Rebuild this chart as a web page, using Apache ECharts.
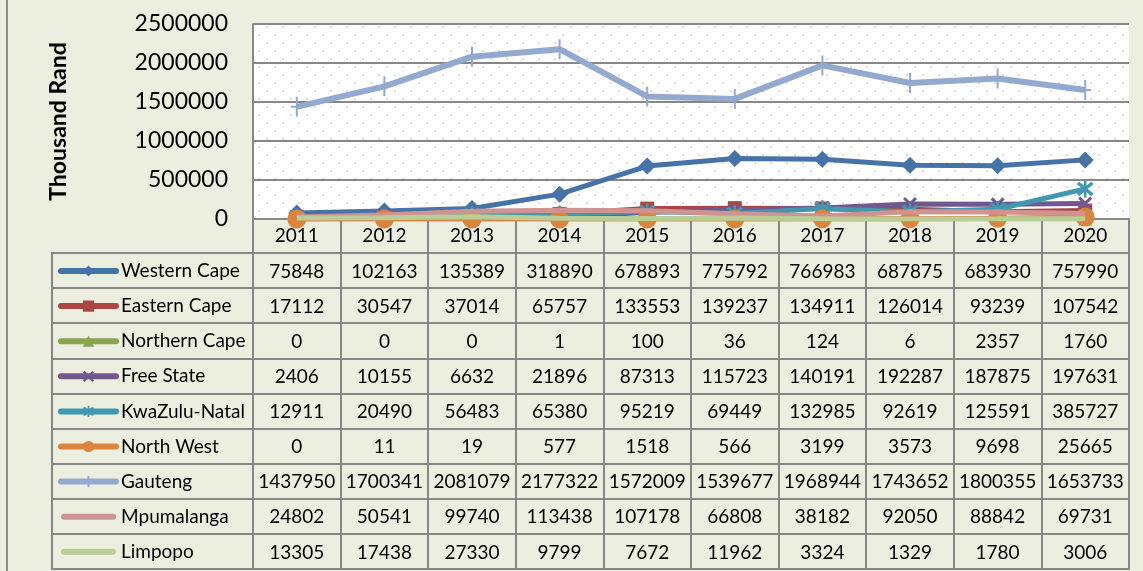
<!DOCTYPE html>
<html>
<head>
<meta charset="utf-8">
<script src="https://cdn.jsdelivr.net/npm/echarts@6/dist/echarts.min.js"></script>
<style>
  html, body { margin: 0; padding: 0; background: #ECEFDF; }
  #wrap { position: relative; width: 1143px; height: 571px; }
  #edge { position: absolute; left: 6px; top: 0; width: 2px; height: 571px; background: #8C8C8C; }
  #chart { position: absolute; left: 0; top: 0; width: 1143px; height: 571px; }
</style>
</head>
<body>
<div id="wrap">
  <div id="edge"></div>
  <div id="chart"></div>
</div>
<script>
// 数据
const years = ['2011', '2012', '2013', '2014', '2015', '2016', '2017', '2018', '2019', '2020']
const provinces = ['Western Cape', 'Eastern Cape', 'Northern Cape', 'Free State', 'KwaZulu-Natal',
  'North West', 'Gauteng', 'Mpumalanga', 'Limpopo']
const westernCape = [75848, 102163, 135389, 318890, 678893, 775792, 766983, 687875, 683930, 757990]
const easternCape = [17112, 30547, 37014, 65757, 133553, 139237, 134911, 126014, 93239, 107542]
const northernCape = [0, 0, 0, 1, 100, 36, 124, 6, 2357, 1760]
const freeState = [2406, 10155, 6632, 21896, 87313, 115723, 140191, 192287, 187875, 197631]
const kwaZuluNatal = [12911, 20490, 56483, 65380, 95219, 69449, 132985, 92619, 125591, 385727]
const northWest = [0, 11, 19, 577, 1518, 566, 3199, 3573, 9698, 25665]
const gauteng = [1437950, 1700341, 2081079, 2177322, 1572009, 1539677, 1968944, 1743652, 1800355, 1653733]
const mpumalanga = [24802, 50541, 99740, 113438, 107178, 66808, 38182, 92050, 88842, 69731]
const limpopo = [13305, 17438, 27330, 9799, 7672, 11962, 3324, 1329, 1780, 3006]
const yTicks = [0, 500000, 1000000, 1500000, 2000000, 2500000]

const seriesValues = [westernCape, easternCape, northernCape, freeState, kwaZuluNatal,
  northWest, gauteng, mpumalanga, limpopo]

const FONT = 'Lato, "Open Sans", sans-serif'
const GRID_GRAY = '#878787'

// 标记样式
const colors = ['#4572A7', '#AA4643', '#89A54E', '#71588F', '#4198AF', '#DB843D', '#93A9CF', '#D19392', '#B9CD96']
const xPath = 'path://M0,1.5L1.5,0L10,8.5L8.5,10Z M8.5,0L10,1.5L1.5,10L0,8.5Z'
const starPath = 'path://M0,1.5L1.5,0L10,8.5L8.5,10Z M8.5,0L10,1.5L1.5,10L0,8.5Z M4.25,-1h1.5v12h-1.5z'
const plusPath = 'path://M5,0h2v20h-2z M0,9h12v2h-12z'
const symbols = ['diamond', 'rect', 'triangle', xPath, starPath, 'circle', plusPath, 'none', 'none']
const symbolSizes = [17, 14, 14, 14, 17, 19, [12, 20], 0, 0]
// 无标记系列的图例图标（纯线段）
const barIcon = 'path://M3,4h49a3,3 0 0 1 0,6h-49a3,3 0 0 1 0,-6z M0,0h0.05v0.05h-0.05z M54.95,13.95h0.05v0.05h-0.05z'

// 背景点阵（交错排列）
const tile = document.createElement('canvas')
tile.width = 16
tile.height = 16
const tctx = tile.getContext('2d')
tctx.fillStyle = '#FFFFFF'
tctx.fillRect(0, 0, 16, 16)
tctx.fillStyle = '#F0D3D7'
tctx.fillRect(2, 2, 2, 2)
tctx.fillRect(10, 10, 2, 2)

const chart = echarts.init(document.getElementById('chart'), null, { renderer: 'canvas' })

// 表格单元格
const cellData = []
seriesValues.forEach((vals, i) => {
  vals.forEach((v, j) => {
    cellData.push([j, i, v])
  })
})

const lineSeries = provinces.map((name, i) => ({
  name: name,
  type: 'line',
  xAxisIndex: 0,
  yAxisIndex: 0,
  z: 2 + i,
  data: seriesValues[i],
  color: colors[i],
  symbol: symbols[i],
  symbolSize: symbolSizes[i],
  showAllSymbol: true,
  lineStyle: { width: i === 6 ? 6 : 5, color: colors[i] },
  itemStyle: { color: colors[i], borderWidth: 0 },
  emphasis: { disabled: true },
  animation: false
}))

const legendData = provinces.map((name, i) =>
  symbols[i] === 'none' ? { name: name, icon: barIcon } : { name: name })

const option = {
  backgroundColor: 'transparent',
  animation: false,
  textStyle: { fontFamily: FONT },
  grid: [
    {
      left: 253, top: 24, right: 14, height: 195,
      show: true, borderWidth: 0,
      backgroundColor: { image: tile, repeat: 'repeat' }
    },
    {
      left: 253, top: 253, right: 14, height: 316,
      show: true, borderWidth: 2, borderColor: GRID_GRAY, backgroundColor: 'transparent'
    },
    {
      left: 52, top: 253, width: 201, height: 316,
      show: true, borderWidth: 2, borderColor: GRID_GRAY, backgroundColor: 'transparent'
    }
  ],
  legend: {
    orient: 'vertical',
    left: 58,
    top: 261,
    padding: 0,
    itemWidth: 55,
    itemHeight: 14,
    itemGap: 15.1,
    selectedMode: false,
    data: legendData,
    lineStyle: { width: 6, cap: 'round' },
    textStyle: { fontFamily: FONT, fontSize: 19, color: '#000', lineHeight: 20 }
  },
  xAxis: [
    {
      gridIndex: 0,
      type: 'category',
      data: years,
      boundaryGap: true,
      axisLine: { lineStyle: { color: GRID_GRAY, width: 2 } },
      axisTick: { show: true, length: 34, interval: 0, lineStyle: { color: GRID_GRAY, width: 2 } },
      axisLabel: { interval: 0, margin: 7, fontSize: 19, color: '#000', fontFamily: FONT }
    },
    {
      gridIndex: 1,
      type: 'category',
      data: years,
      boundaryGap: true,
      axisLine: { show: false },
      axisTick: { show: false },
      axisLabel: { show: false, interval: 0 },
      splitLine: { show: true, interval: 0, lineStyle: { color: GRID_GRAY, width: 2 } }
    },
    {
      gridIndex: 2,
      type: 'value',
      show: false
    }
  ],
  yAxis: [
    {
      gridIndex: 0,
      type: 'value',
      min: yTicks[0],
      max: yTicks[yTicks.length - 1],
      interval: yTicks[1] - yTicks[0],
      name: 'Thousand Rand',
      nameLocation: 'middle',
      nameRotate: 90,
      nameGap: 183,
      nameTextStyle: { fontFamily: FONT, fontSize: 23, fontWeight: 'bold', color: '#000' },
      axisLine: { show: true, lineStyle: { color: GRID_GRAY, width: 2 } },
      axisTick: { show: false },
      axisLabel: { margin: 25, fontSize: 23, color: '#000', fontFamily: FONT, formatter: v => String(v) },
      splitLine: { show: true, lineStyle: { color: GRID_GRAY, width: 2 } }
    },
    {
      gridIndex: 1,
      type: 'category',
      data: provinces,
      inverse: true,
      boundaryGap: true,
      axisLine: { show: false },
      axisTick: { show: false },
      axisLabel: { show: false, interval: 0 },
      splitLine: { show: true, interval: 0, lineStyle: { color: GRID_GRAY, width: 2 } }
    },
    {
      gridIndex: 2,
      type: 'category',
      data: provinces,
      inverse: true,
      boundaryGap: true,
      axisLine: { show: false },
      axisTick: { show: false },
      axisLabel: { show: false, interval: 0 },
      splitLine: { show: true, interval: 0, lineStyle: { color: GRID_GRAY, width: 2 } }
    }
  ],
  series: [
    ...lineSeries,
    {
      type: 'custom',
      name: 'table',
      xAxisIndex: 1,
      yAxisIndex: 1,
      data: cellData,
      silent: true,
      renderItem: (params, api) => {
        const pt = api.coord([api.value(0), api.value(1)])
        return {
          type: 'text',
          style: {
            text: String(api.value(2)),
            x: pt[0],
            y: pt[1] + 1,
            align: 'center',
            verticalAlign: 'middle',
            fill: '#000',
            font: '19px ' + FONT
          }
        }
      }
    }
  ]
}

chart.setOption(option)
</script>
</body>
</html>
